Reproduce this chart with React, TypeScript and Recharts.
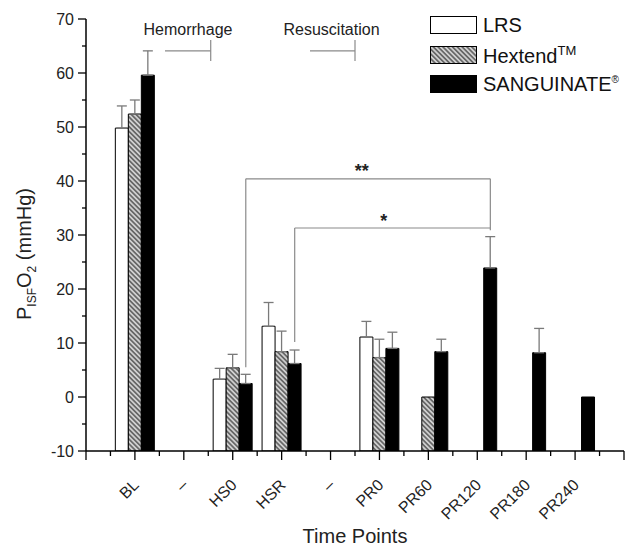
import { BarChart, Bar, XAxis, YAxis, ErrorBar, ReferenceLine, ReferenceDot, Legend, Label } from 'recharts'

// time points on the x axis
const timePoints = ['BL', '–', 'HS0', 'HSR', '–', 'PR0', 'PR60', 'PR120', 'PR180', 'PR240']

// mean PISF O2 (mmHg) and SEM for each group
const lrsMean = [49.8, null, 3.3, 13.1, null, 11.1, null, null, null, null]
const lrsSem = [4.1, null, 2.0, 4.4, null, 2.9, null, null, null, null]
const hextendMean = [52.4, null, 5.4, 8.4, null, 7.3, 0, null, null, null]
const hextendSem = [2.6, null, 2.5, 3.8, null, 3.4, null, null, null, null]
const sanguinateMean = [59.6, null, 2.5, 6.2, null, 9.0, 8.4, 23.9, 8.2, 0]
const sanguinateSem = [4.5, null, 1.7, 2.5, null, 3.0, 2.3, 5.8, 4.5, null]

const seriesNames = ['LRS', 'Hextend', 'SANGUINATE']
const seriesSup = ['', 'TM', '®']

const yFloor = -10
const yTicks = [-10, -5, 0, 5, 10, 15, 20, 25, 30, 35, 40, 45, 50, 55, 60, 65, 70]
const xTicks = [0, 0.5, 1, 1.5, 2, 2.5, 3, 3.5, 4, 4.5, 5, 5.5, 6, 6.5, 7, 7.5, 8, 8.5, 9, 9.5, 10, 10.5, 11]

// significance brackets (x in time-point units, sanguinate bar offset ~0.267)
const bracketDouble = [
    [{ x: 3.267, y: 5.5 }, { x: 3.267, y: 40.4 }],
    [{ x: 3.267, y: 40.4 }, { x: 8.267, y: 40.4 }],
    [{ x: 8.267, y: 40.4 }, { x: 8.267, y: 30.9 }],
]
const bracketSingle = [
    [{ x: 4.267, y: 10.2 }, { x: 4.267, y: 31.3 }],
    [{ x: 4.267, y: 31.3 }, { x: 8.267, y: 31.3 }],
]
// phase markers
const phaseLines = [
    [{ x: 1.615, y: 64.1 }, { x: 2.55, y: 64.1 }],
    [{ x: 2.55, y: 66.1 }, { x: 2.55, y: 62.2 }],
    [{ x: 4.58, y: 64.1 }, { x: 5.5, y: 64.1 }],
    [{ x: 5.5, y: 66.1 }, { x: 5.5, y: 62.2 }],
]
const phaseLabels = [
    { text: 'Hemorrhage', x: 2.085, y: 68.15 },
    { text: 'Resuscitation', x: 5.02, y: 68.15 },
]
const starLabels = [
    { text: '**', x: 5.64, y: 41.85 },
    { text: '*', x: 6.09, y: 32.6 },
]

const FONT = '"Liberation Sans", Arial, sans-serif'

const chartData = timePoints.map((t, i) => ({
    time: t,
    pos: i + 1,
    lrs: lrsMean[i] == null ? null : [yFloor, lrsMean[i]],
    lrsErr: lrsSem[i] == null ? null : [0, lrsSem[i]],
    hextend: hextendMean[i] == null ? null : [yFloor, hextendMean[i]],
    hextendErr: hextendSem[i] == null ? null : [0, hextendSem[i]],
    sanguinate: sanguinateMean[i] == null ? null : [yFloor, sanguinateMean[i]],
    sanguinateErr: sanguinateSem[i] == null ? null : [0, sanguinateSem[i]],
}))

const renderYTick = (props: any) => {
    const { x, y, payload } = props
    const major = payload.value % 10 === 0
    return (
        <g>
            <line x1={x - (major ? 8 : 4)} y1={y} x2={x} y2={y} stroke="#000" strokeWidth={1.3} />
            {major && <text x={x - 12} y={y} dy="0.35em" textAnchor="end" fontSize={16} fontFamily={FONT} fill="#222">{payload.value}</text>}
        </g>
    )
}

const renderXTick = (props: any) => {
    const { x, y, payload } = props
    const v = payload.value
    const major = Number.isInteger(v)
    const label = major && v >= 1 && v <= timePoints.length ? timePoints[v - 1] : null
    return (
        <g transform={`translate(${x},${y})`}>
            <line x1={0} y1={0} x2={0} y2={major ? 9 : 5} stroke="#000" strokeWidth={1.3} />
            {label && (
                <g transform="translate(5,35)">
                    <text x={0} y={0} transform="rotate(-45)" textAnchor="end" fontSize={16} fontFamily={FONT} fill="#222">{label}</text>
                </g>
            )}
        </g>
    )
}

const swatchFill = ['#fff', 'url(#hatch)', '#000']

const renderLegend = () => (
    <div style={{ fontFamily: FONT, fontSize: 20, color: '#111' }}>
        {seriesNames.map((n, i) => (
            <div key={n} style={{ display: 'flex', alignItems: 'center', height: 29.5 }}>
                <svg width={48} height={19} style={{ marginRight: 5 }}>
                    <rect x={0.5} y={0.5} width={46} height={17} fill={swatchFill[i]} stroke="#000" strokeWidth={1} />
                </svg>
                <span>{n}{seriesSup[i] && <sup style={{ fontSize: i === 1 ? 13 : 10 }}>{seriesSup[i]}</sup>}</span>
            </div>
        ))}
    </div>
)

const yTitle = () => (
    <text x={31} y={254} transform="rotate(-90 31 254)" textAnchor="middle" fontSize={20} fontFamily={FONT} fill="#222">
        <tspan>P</tspan>
        <tspan fontSize={12} dy={5}>ISF</tspan>
        <tspan dy={-5}>O</tspan>
        <tspan fontSize={12} dy={5}>2</tspan>
        <tspan dy={-5}> (mmHg)</tspan>
    </text>
)

const xTitle = (props: any) => {
    const vb = props.viewBox
    return (
        <text x={vb.x + vb.width / 2} y={543} textAnchor="middle" fontSize={20} fontFamily={FONT} fill="#222">Time Points</text>
    )
}

const App = () => {
    return (
        <div style={{ position: 'absolute', left: 0, top: 0, width: 639, height: 547, background: '#fff' }}>
            <svg width={0} height={0} style={{ position: 'absolute' }}>
                <defs>
                    <pattern id="hatch" width={3.4} height={3.4} patternUnits="userSpaceOnUse" patternTransform="rotate(-45)">
                        <rect width={3.4} height={3.4} fill="#cfcfcf" />
                        <line x1={1.7} y1={0} x2={1.7} y2={3.4} stroke="#3c3c3c" strokeWidth={1.2} />
                    </pattern>
                </defs>
            </svg>
            <BarChart width={639} height={547} data={chartData}
                margin={{ top: 19, right: 15, left: 0, bottom: 0 }} barCategoryGap="10%" barGap={0}>
                <XAxis xAxisId="pos" dataKey="pos" type="number" domain={[0, 11]} ticks={xTicks} interval={0} allowDataOverflow
                    height={96} tickSize={0} tickMargin={0} tickLine={false}
                    axisLine={{ stroke: '#000', strokeWidth: 1.5 }} tick={renderXTick}>
                    <Label content={xTitle} />
                </XAxis>
                <XAxis xAxisId="cat" dataKey="time" hide height={0} padding={{ left: 24.45, right: 24.45 }} />
                <YAxis domain={[-10, 70]} ticks={yTicks} interval={0} allowDataOverflow width={86}
                    tickSize={0} tickMargin={0} tickLine={false}
                    axisLine={{ stroke: '#000', strokeWidth: 1.5 }} tick={renderYTick}>
                    <Label content={yTitle} />
                </YAxis>
                <Legend content={renderLegend} layout="vertical" align="center" verticalAlign="middle"
                    wrapperStyle={{ left: 430, top: 10.75, width: 'auto' }} />

                <Bar xAxisId="cat" dataKey="lrs" name={seriesNames[0]} fill="#fff" stroke="#000" strokeWidth={1} isAnimationActive={false}>
                    <ErrorBar dataKey="lrsErr" direction="y" width={5} stroke="#7a7a7a" strokeWidth={1.3} />
                </Bar>
                <Bar xAxisId="cat" dataKey="hextend" name={seriesNames[1]} fill="url(#hatch)" stroke="#000" strokeWidth={1} isAnimationActive={false}>
                    <ErrorBar dataKey="hextendErr" direction="y" width={5} stroke="#7a7a7a" strokeWidth={1.3} />
                </Bar>
                <Bar xAxisId="cat" dataKey="sanguinate" name={seriesNames[2]} fill="#000" stroke="#000" strokeWidth={1} isAnimationActive={false}>
                    <ErrorBar dataKey="sanguinateErr" direction="y" width={5} stroke="#7a7a7a" strokeWidth={1.3} />
                </Bar>

                {[...bracketDouble, ...bracketSingle, ...phaseLines].map((seg, i) => (
                    <ReferenceLine key={'seg' + i} xAxisId="pos" segment={seg} stroke="#8a8a8a" strokeWidth={1.2} />
                ))}
                {[...phaseLabels, ...starLabels].map((l) => (
                    <ReferenceDot key={l.text} xAxisId="pos" x={l.x} y={l.y} r={0} stroke="none" fill="none"
                        label={{ value: l.text, position: 'center', fontSize: l.text.startsWith('*') ? 18 : 16, fontWeight: l.text.startsWith('*') ? 'bold' : 'normal', fontFamily: FONT, fill: '#222' }} />
                ))}
            </BarChart>
        </div>
    )
}

export default App
